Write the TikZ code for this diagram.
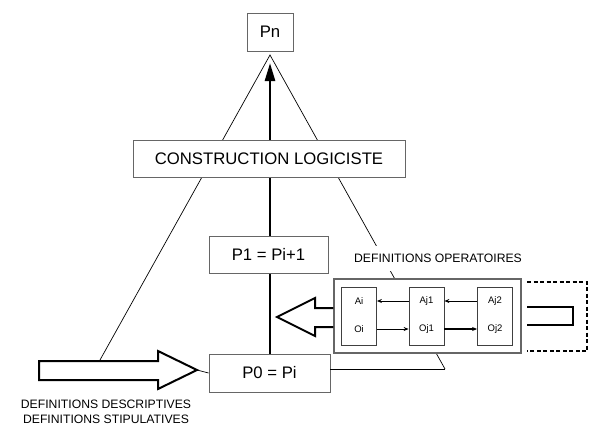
\documentclass[tikz,border=0pt]{standalone}
\usepackage{fontspec}
\setmainfont{Liberation Sans}
\usetikzlibrary{arrows.meta,backgrounds}
\begin{document}
\begin{tikzpicture}[x=1pt,y=-1pt,
  bigbox/.style={draw=black!60,line width=0.9pt,fill=white,inner sep=0pt,font=\fontsize{16.7}{18}\selectfont},
  smallbox/.style={draw=black!75,line width=0.8pt,fill=white,inner sep=0pt,minimum width=35pt,minimum height=58pt},
  smalltxt/.style={inner sep=0pt,font=\fontsize{9.5}{11}\selectfont},
  lbl/.style={inner sep=0pt,font=\fontsize{12.2}{14.6}\selectfont,align=center},
  thin/.style={line width=0.7pt,black},
  hollow/.style={line width=2pt,black,line join=miter},
  sarrow/.style={line width=0.8pt,-{Stealth[length=5pt,width=4pt]}}]
\useasboundingbox (0,0) rectangle (591,436);
% apex and leg ends
\coordinate (apex) at (270,55);
\coordinate (lfoot) at (100,360);
\coordinate (rfoot) at (445,369);
\draw[thin] (lfoot) -- (apex) -- (rfoot);
% boxes
\node[bigbox,minimum width=46pt,minimum height=38pt] (pn) at (270,32) {Pn};
\node[bigbox,minimum width=272pt,minimum height=37pt] (cl) at (269,158.5) {CONSTRUCTION LOGICISTE};
\node[bigbox,minimum width=119pt,minimum height=37pt] (p1) at (268.5,254.5) {P1 = Pi+1};
\node[bigbox,minimum width=121pt,minimum height=38pt] (p0) at (269.5,373) {P0 = Pi};
\draw[thin] (rfoot) -- (rfoot -| p0.east);
% thick main arrow, behind the boxes
\coordinate (mtip) at (270,63);
\begin{pgfonlayer}{background}
\draw[line width=2.6pt,-{Triangle[width=10pt,length=18pt]}] (p0.north -| mtip) -- (mtip);
\end{pgfonlayer}
% label
\node[lbl,fill=white,minimum height=25pt] (dop) at (438,258.5) {DEFINITIONS OPERATOIRES};
% operatoires box
\node[draw=black!60,line width=1.1pt,fill=white,minimum width=187pt,minimum height=74pt,inner sep=0pt] (ob) at (427.5,316) {};
\node[smallbox] (bi) at (359,316) {};
\node[smallbox] (bj1) at (426.5,316) {};
\node[smallbox] (bj2) at (495,316) {};
\node[smalltxt] (ai) at (359,301) {Ai};
\node[smalltxt] (oi) at (359,329) {Oi};
\node[smalltxt] (aj1) at (426.5,301) {Aj1};
\node[smalltxt] (oj1) at (426.5,329) {Oj1};
\node[smalltxt] (aj2) at (495,301) {Aj2};
\node[smalltxt] (oj2) at (495,329) {Oj2};
\draw[sarrow] (ai -| bj1.west) -- (ai -| bi.east);
\draw[sarrow] (aj2 -| bj2.west) -- (aj2 -| bj1.east);
\draw[sarrow] (oi -| bi.east) -- (oi -| bj1.west);
\draw[sarrow,line width=1.2pt] (oj1 -| bj1.east) -- (oj1 -| bj2.west);
% left hollow arrow pointing right
\coordinate (ltip) at (197,370);
\draw[hollow] (39,361) -- (158,361) -- (158,351) -- (ltip) -- (158,389) -- (158,380) -- (39,380) -- cycle;
\draw[thin] (ltip) -- (p0.west);
% middle hollow arrow pointing left
\draw[hollow] (ob.west |- 0,308) -- (315,308) -- (315,298) -- (277,317) -- (315,336) -- (315,327) -- (ob.west |- 0,327);
% right U shape and dashed frame
\draw[hollow] (527,307) -- (573,307) -- (573,325) -- (527,325);
\draw[line width=1.1pt,dashed,dash pattern=on 4pt off 2.5pt] (527,282) -- (587,282) -- (587,351) -- (527,351);
% bottom label
\node[lbl] (dds) at (106,412) {DEFINITIONS DESCRIPTIVES\\DEFINITIONS STIPULATIVES};
\end{tikzpicture}
\end{document}
